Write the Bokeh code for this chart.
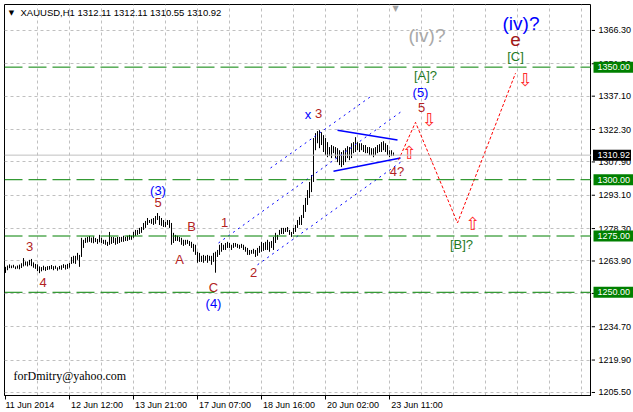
from bokeh.plotting import figure
from bokeh.layouts import row
from bokeh.models import FixedTicker, Label, Range1d, Span
from bokeh.core.properties import value
from bokeh.embed import file_html
from bokeh.resources import INLINE

# ---------------- data ----------------
symbol = "XAUUSD,H1"
last_ohlc = ["1312.11", "1312.11", "1310.55", "1310.92"]
bid = 1310.92

highs = [
    1261.3, 1261.9, 1262.4, 1261.9, 1262.2, 1261.5, 1261.9, 1262.3, 1262.9, 1265.2,
    1263.7, 1263.7, 1264.4, 1264.8, 1263.3, 1262.6, 1262.4, 1261.5, 1261.2, 1261.8,
    1261.3, 1261.6, 1261.7, 1262.1, 1261.6, 1261.8, 1261.1, 1261.7, 1262.0, 1262.5,
    1262.2, 1262.6, 1263.0, 1265.7, 1266.2, 1266.2, 1267.5, 1266.6, 1274.2, 1273.3,
    1274.2, 1274.6, 1275.0, 1274.3, 1274.8, 1274.1, 1273.7, 1275.5,
    1274.2, 1273.3, 1273.3, 1272.4, 1276.8, 1274.6, 1274.6, 1274.2, 1274.6, 1274.6,
    1274.6, 1275.1, 1274.6, 1275.1, 1275.5, 1275.1, 1276.8, 1277.7, 1277.7, 1278.6,
    1279.0, 1280.8, 1281.7, 1283.0, 1282.1, 1282.6, 1283.0, 1283.9, 1285.2, 1283.9,
    1283.0, 1282.1, 1281.3, 1282.1, 1282.1, 1280.8, 1276.4, 1275.5, 1275.1, 1274.6,
    1274.2, 1273.3, 1273.3, 1273.3, 1272.8, 1272.4, 1271.5, 1271.1, 1268.0, 1267.5,
    1266.2, 1266.6, 1266.2, 1266.6, 1266.2, 1266.2, 1267.5, 1268.0, 1268.8, 1271.1,
    1271.9, 1271.1, 1271.9, 1272.4, 1271.9, 1271.1, 1271.9, 1271.9, 1271.5, 1271.1,
    1271.5, 1271.1, 1270.2, 1269.7, 1268.8, 1268.8, 1269.3, 1268.8, 1269.7, 1270.6,
    1272.4, 1271.9, 1272.4, 1273.3, 1272.4, 1272.8, 1274.6, 1276.4, 1275.5, 1277.7,
    1278.6, 1278.6, 1278.6, 1279.0, 1277.7, 1276.8, 1278.6, 1279.9, 1282.1, 1283.5,
    1284.3, 1288.8, 1291.9, 1295.4, 1299.0, 1302.1, 1318.5, 1320.7, 1321.6, 1322.0,
    1321.1, 1319.8, 1318.5, 1316.7, 1314.5, 1315.4, 1314.9, 1314.5, 1314.0, 1313.1,
    1312.3, 1313.1, 1314.0, 1314.9, 1314.5, 1316.2, 1316.7, 1318.9, 1316.7, 1316.2,
    1316.2, 1315.4, 1315.4, 1314.5, 1314.5, 1314.0, 1314.0, 1314.5, 1315.4, 1315.8,
    1316.7, 1317.1, 1316.2, 1315.4, 1313.1, 1313.1, 1312.1,
]
lows = [
    1258.6, 1259.8, 1260.7, 1260.7, 1260.9, 1260.3, 1260.5, 1260.2, 1260.8, 1261.5,
    1261.9, 1261.5, 1262.0, 1261.6, 1260.9, 1260.4, 1259.4, 1258.5, 1259.3, 1259.8,
    1259.5, 1259.9, 1260.1, 1260.3, 1259.8, 1260.4, 1259.6, 1260.2, 1260.0, 1260.8,
    1260.1, 1260.4, 1260.9, 1262.6, 1262.9, 1262.6, 1264.4, 1261.3, 1265.7, 1269.7,
    1271.9, 1272.1, 1272.4, 1272.0, 1271.8, 1272.3, 1271.5, 1272.2,
    1271.9, 1271.5, 1271.1, 1270.6, 1271.1, 1271.5, 1271.9, 1271.1, 1271.5, 1271.9,
    1272.4, 1272.4, 1272.8, 1272.8, 1273.3, 1273.3, 1274.2, 1275.1, 1275.5, 1275.9,
    1276.4, 1277.7, 1278.6, 1279.9, 1280.8, 1280.4, 1279.9, 1280.4, 1282.1, 1279.9,
    1279.5, 1279.0, 1279.0, 1279.9, 1278.6, 1271.1, 1271.9, 1272.8, 1272.8, 1272.4,
    1271.1, 1270.6, 1271.1, 1271.5, 1270.6, 1269.7, 1268.0, 1266.6, 1263.1, 1263.5,
    1263.5, 1263.1, 1264.0, 1263.1, 1264.0, 1262.2, 1263.5, 1258.7, 1265.7, 1266.6,
    1268.0, 1268.8, 1268.8, 1269.7, 1269.7, 1268.8, 1269.7, 1270.2, 1269.7, 1269.3,
    1269.7, 1268.8, 1268.0, 1266.6, 1266.6, 1267.1, 1267.1, 1265.7, 1266.2, 1267.5,
    1268.0, 1268.4, 1268.8, 1268.8, 1268.0, 1269.7, 1268.8, 1271.9, 1273.3, 1275.5,
    1275.9, 1275.9, 1276.8, 1276.8, 1275.5, 1274.6, 1275.9, 1276.8, 1278.6, 1279.9,
    1279.9, 1283.0, 1285.7, 1288.8, 1291.9, 1294.5, 1299.0, 1313.1, 1316.2, 1314.0,
    1315.4, 1312.3, 1310.9, 1310.0, 1310.5, 1309.6, 1311.8, 1309.6, 1307.8, 1306.5,
    1305.6, 1306.5, 1307.8, 1309.6, 1308.7, 1309.6, 1311.8, 1312.3, 1313.1, 1312.3,
    1313.1, 1312.3, 1311.8, 1311.8, 1310.9, 1310.9, 1310.0, 1310.9, 1311.8, 1312.3,
    1312.3, 1313.1, 1312.3, 1310.9, 1310.0, 1310.5, 1310.6,
]
bars = list(range(len(highs)))

levels = [1350.00, 1300.00, 1275.00, 1250.00]
price_ticks = [1366.30, 1351.50, 1337.10, 1322.30, 1307.90, 1293.10,
               1278.30, 1263.90, 1249.50, 1234.70, 1219.90, 1205.50]
date_ticks = [0, 32, 64, 96, 128, 160, 192]
date_labels = ["11 Jun 2014", "12 Jun 12:00", "13 Jun 21:00", "17 Jun 07:00",
               "18 Jun 16:00", "20 Jun 02:00", "23 Jun 11:00"]
grid_bars = [16, 32, 48, 64, 80, 96, 112, 128, 144, 160, 176, 192,
             208, 224, 240, 256, 272, 288]

# Elliott wave labels
RED, BLUE, GREEN, GREY, BROWN = "#B22222", "#0000FF", "#1F7A1F", "#A9A9A9", "#A01818"
wave_text = ["3", "4", "(3)", "5", "B", "A", "1", "C", "(4)", "2", "x", "3",
             "(5)", "5", "[A]?", "4?", "[B]?", "[C]"]
wave_bar = [12, 18.75, 76.25, 76.25, 93, 87, 109.5, 104, 104, 124, 151.25, 156.5,
            207.5, 208, 210, 195.75, 228, 255]
wave_price = [1270.2, 1254.2, 1295.4, 1289.7, 1279.0, 1264.4, 1280.8, 1252.0,
              1245.1, 1258.7, 1329.0, 1329.5, 1338.6, 1332.2, 1346.2, 1303.8,
              1271.1, 1354.6]
wave_color = [RED, RED, BLUE, RED, RED, RED, RED, RED, BLUE, RED, BLUE, RED,
              BLUE, RED, GREEN, RED, GREEN, GREEN]

big_text = ["(iv)?", "(iv)?", "e"]
big_bar = [210.75, 257.75, 255]
big_price = [1363.9, 1369.2, 1362.2]
big_color = [GREY, BLUE, BROWN]

# channel (dotted blue) lines
chan_bars = [[132.5, 183.5], [106.5, 197.5], [126, 199]]
chan_prices = [[1305.2, 1337.5], [1271.9, 1330.0], [1262.2, 1308.7]]
# triangle (solid blue) lines
tri_bars = [[166, 196], [164, 197.5]]
tri_prices = [[1322.0, 1317.6], [1303.8, 1309.6]]
# forecast path (red dotted)
path_bar = [196.5, 205, 226, 255]
path_price = [1308.7, 1325.5, 1280.8, 1347.3]
# arrows
arrow_text = ["\u21e9", "\u21e9", "\u21e7", "\u21e7"]
arrow_bar = [212, 260, 202, 233.75]
arrow_price = [1326.9, 1344.4, 1312.0, 1280.4]

# price tags shown on the price scale
tag_prices = levels + [bid]
tag_colors = ["#008000"] * len(levels) + ["black"]

# ---------------- layout constants ----------------
W, H = 633, 412
LEFT, TOP, RIGHT, BOTTOM = 4, 4, 42, 16
FW, FH = W - LEFT - RIGHT, H - TOP - BOTTOM
X0, X1 = -0.5, 293
Y0, Y1 = 1204.16, 1377.82
FONT = "Liberation Sans"

# ---------------- main chart ----------------
yr = Range1d(Y0, Y1)
p = figure(width=LEFT + FW, height=H, x_range=Range1d(X0, X1), y_range=yr,
           output_backend="svg", toolbar_location=None, y_axis_location=None,
           min_border_left=LEFT, min_border_top=TOP, min_border_right=0,
           min_border_bottom=BOTTOM)
p.background_fill_color = "white"
p.border_fill_color = "white"
p.outline_line_color = "black"
p.outline_line_width = 1

# date axis: labels start just right of their tick (MT4 style) -> pad on the left
NBSP = "\u00a0"
xa = p.xaxis[0]
xa.ticker = FixedTicker(ticks=date_ticks)
xa.major_label_overrides = {t: NBSP * (2 if k == 0 else 22) + s
                            for k, (t, s) in enumerate(zip(date_ticks, date_labels))}
xa.major_tick_out = 4
xa.major_tick_in = 0
xa.minor_tick_out = 0
xa.minor_tick_in = 0
xa.major_label_standoff = 0
xa.major_label_text_font = FONT
xa.major_label_text_font_size = "9px"
xa.major_label_text_color = "black"
xa.axis_line_color = "black"

p.xgrid.ticker = FixedTicker(ticks=grid_bars)
p.ygrid.ticker = FixedTicker(ticks=price_ticks)
for g in (p.xgrid[0], p.ygrid[0]):
    g.grid_line_color = "#c0c0c0"
    g.grid_line_dash = "3 3"
    g.grid_line_width = 1

# horizontal levels and bid line
for lvl in levels:
    p.add_layout(Span(location=lvl, dimension="width", line_color="#008000",
                      line_dash="18 6", line_width=1))
p.add_layout(Span(location=bid, dimension="width", line_color="#c0c0c0", line_width=1))

# price bars
p.segment(x0=bars, y0=lows, x1=bars, y1=highs, line_color="black", line_width=1)

# channel & triangle
p.multi_line(xs=chan_bars, ys=chan_prices, line_color="#0000FF", line_dash="2 4", line_width=1)
p.multi_line(xs=tri_bars, ys=tri_prices, line_color="#0000FF", line_width=1.5)
# forecast
p.line(path_bar, path_price, line_color="#FF0000", line_dash="3 2", line_width=1)

# labels
p.text(x=wave_bar, y=wave_price, text=wave_text, text_color=wave_color,
       text_font=value(FONT), text_font_size="13px", text_align="center",
       text_baseline="middle")
p.text(x=big_bar, y=big_price, text=big_text, text_color=big_color,
       text_font=value(FONT), text_font_size="19px", text_align="center",
       text_baseline="middle")
p.text(x=arrow_bar, y=arrow_price, text=arrow_text, text_color="#FF2A2A",
       text_font=value("DejaVu Sans"), text_font_size="18px", text_align="center",
       text_baseline="middle")

# title
p.add_layout(Label(x=3, y=1374.05, text="\u25bc", text_font="DejaVu Sans",
                   text_font_size="7px", text_color="black", text_align="center",
                   text_baseline="middle"))
p.add_layout(Label(x=7.5, y=1374.05,
                   text=symbol + "  " + " ".join(last_ohlc), text_font=FONT,
                   text_font_size="9.5px", text_color="black", text_align="left",
                   text_baseline="middle"))
# chart shift marker
p.add_layout(Label(x=195, y=1376.0, text="\u25bc", text_font="DejaVu Sans",
                   text_font_size="8px", text_color="#a0a0a0", text_align="center",
                   text_baseline="middle"))
# signature
p.add_layout(Label(x=4, y=1213.0, text="forDmitry@yahoo.com", text_font="Liberation Serif",
                   text_font_size="12px", text_color="black", text_align="left",
                   text_baseline="middle"))

# ---------------- price scale (right strip, shares the price range) ----------------
sc = figure(width=RIGHT, height=H, x_range=Range1d(0, RIGHT), y_range=yr,
            output_backend="svg", toolbar_location=None,
            x_axis_location=None, y_axis_location=None,
            min_border=0, min_border_left=0, min_border_right=0,
            min_border_top=TOP, min_border_bottom=BOTTOM)
sc.grid.visible = False
sc.outline_line_color = None
sc.background_fill_color = "white"
sc.border_fill_color = "white"
n = len(price_ticks)
sc.segment(x0=[0] * n, x1=[3.5] * n, y0=price_ticks, y1=price_ticks,
           line_color="black", line_width=1)
sc.text(x=[7] * n, y=price_ticks, text=[f"{t:.2f}" for t in price_ticks],
        text_color="black", text_font=value(FONT), text_font_size="9px",
        text_align="left", text_baseline="middle")
m = len(tag_prices)
sc.rect(x=[22] * len(levels) + [20.5], y=tag_prices,
        width=[40] * len(levels) + [38], height=11, width_units="screen",
        height_units="screen", fill_color=tag_colors, line_color=None)
sc.text(x=[6] * m, y=tag_prices, text=[f"{v:.2f}" for v in tag_prices],
        text_color="white", text_font=value(FONT), text_font_size="9px",
        text_align="left", text_baseline="middle")

layout = row(p, sc, spacing=0)
open("out.html", "w").write(file_html(layout, INLINE))
